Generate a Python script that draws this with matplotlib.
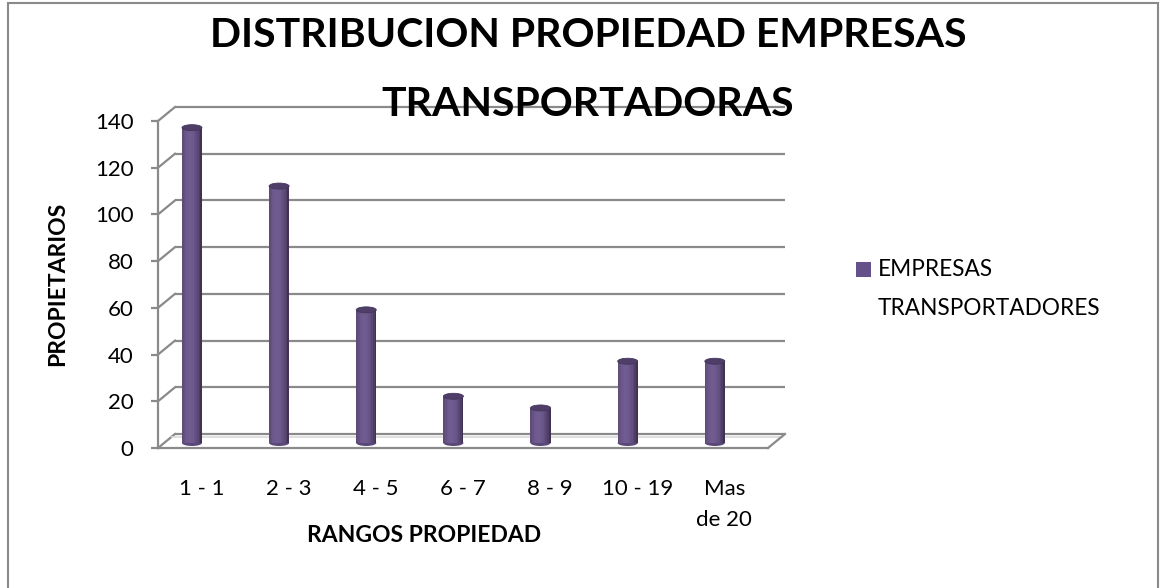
import matplotlib
matplotlib.use("Agg")
import matplotlib.pyplot as plt
import matplotlib.transforms as mtransforms
from matplotlib.patches import Ellipse, Rectangle
import numpy as np

categories = ["1 - 1", "2 - 3", "4 - 5", "6 - 7", "8 - 9", "10 - 19", "Mas\nde 20"]
values = [135, 110, 57, 20, 15, 35, 35]
series_name = "EMPRESAS\nTRANSPORTADORES"
yticks = [0, 20, 40, 60, 80, 100, 120, 140]
title = "DISTRIBUCION PROPIEDAD EMPRESAS\nTRANSPORTADORAS"
xlabel = "RANGOS PROPIEDAD"
ylabel = "PROPIETARIOS"

FONT = "Lato"
FS = 16
W, H, DPI = 1160, 588, 100
fig = plt.figure(figsize=(W / DPI, H / DPI), dpi=DPI)
fig.patch.set_facecolor("white")

def px(x, y):
    return x / W, 1 - y / H

# front axis frame: x 158..768, y 448 (0) .. 121 (140)
ax = fig.add_axes([158 / W, (H - 448) / H, 610 / W, 327 / H])
ax.set_xlim(-0.5, len(categories) - 0.5)
ax.set_ylim(0, 140)
ax.patch.set_alpha(0)
for s in ["top", "right", "bottom"]:
    ax.spines[s].set_visible(False)
grid_c = "#8a8a8a"
ax.spines["left"].set_color(grid_c)
ax.spines["left"].set_linewidth(1.6)

ax.set_yticks(yticks)
ax.set_yticklabels([str(t) for t in yticks], fontsize=FS, family=FONT)
ax.tick_params(axis="y", length=5, width=1.6, color=grid_c, pad=12.5)
x = np.arange(len(categories))
ax.set_xticks(x)
ax.set_xticklabels(categories, fontsize=FS, family=FONT, linespacing=1.72)
ax.tick_params(axis="x", length=0, pad=22)

# 3D depth offsets
dx, dy = 17 / DPI, 14 / DPI
back = ax.transData + mtransforms.ScaledTranslation(dx, dy, fig.dpi_scale_trans)
xmin, xmax = ax.get_xlim()

# back wall gridlines
for t in yticks:
    ax.plot([xmin, xmax], [t, t], color=grid_c, lw=1.6, transform=back,
            clip_on=False, zorder=1, solid_capstyle="butt")
    # left wall diagonals
    p0 = ax.transData.transform((xmin, t))
    p1 = back.transform((xmin, t))
    ax.plot([p0[0], p1[0]], [p0[1], p1[1]], color=grid_c, lw=1.6,
            transform=None, clip_on=False, zorder=1)

# floor
inner = ax.transData + mtransforms.ScaledTranslation(dx * 0.85, 11 / DPI, fig.dpi_scale_trans)
ax.plot([xmin, xmax], [0, 0], color="#d9d9d9", lw=1.2, transform=inner, clip_on=False, zorder=1)
ax.plot([xmin, xmax], [0, 0], color=grid_c, lw=1.6, clip_on=False, zorder=2)
p0 = ax.transData.transform((xmax, 0))
p1 = back.transform((xmax, 0))
ax.plot([p0[0], p1[0]], [p0[1], p1[1]], color=grid_c, lw=1.6,
        transform=None, clip_on=False, zorder=2)

# cylinders
bar_tr = ax.transData + mtransforms.ScaledTranslation(-9.6 / DPI, 5 / DPI, fig.dpi_scale_trans)
bw = 20 / 87.14
nstrip = 12
edges = np.linspace(-bw / 2, bw / 2, nstrip + 1)
centers = (edges[:-1] + edges[1:]) / 2
dark = np.array([0.29, 0.23, 0.38])
light = np.array([0.44, 0.36, 0.57])
ell_h = 6 / (327 / 140)
for i, v in enumerate(values):
    ax.add_patch(Ellipse((x[i], 0), bw, ell_h, transform=bar_tr, facecolor="#5a4878",
                         edgecolor="none", zorder=3, clip_on=False))
    for c in centers:
        r = abs(c + bw * 0.1) / (bw / 2)
        col = light * (1 - r ** 2) + dark * r ** 2
        ax.bar(x[i] + c, v, width=bw / nstrip + 0.002, color=col, transform=bar_tr,
               zorder=4, clip_on=False, linewidth=0)
    ax.add_patch(Ellipse((x[i], v), bw, ell_h, transform=bar_tr, facecolor="#4e3e68",
                         edgecolor="#45375c", lw=0.6, zorder=5, clip_on=False))

# axis titles
ax.set_ylabel(ylabel, fontsize=16.5, family=FONT, fontweight="bold", va="center")
ax.yaxis.set_label_coords((58 - 158) / 610, (448 - 284) / 327)
ax.set_xlabel(xlabel, fontsize=16.5, family=FONT, fontweight="bold", va="center")
ax.xaxis.set_label_coords((424 - 158) / 610, (448 - 536) / 327)

# title
tx, ty = px(588, 70)
fig.text(tx, ty, title, ha="center", va="center", fontsize=29.5, family=FONT,
         fontweight="bold", linespacing=2.04)

# legend (marker + wrapped label)
fig.patches.append(Rectangle(px(856, 277), 15 / W, 15 / H, transform=fig.transFigure,
                             facecolor="#66528a", edgecolor="none"))
lx, ly = px(878, 315)
fig.text(lx, ly, series_name, ha="left", va="baseline", fontsize=16.3, family=FONT,
         linespacing=2.08)

# outer frame
fig.patches.append(Rectangle(px(7.5, 590), (1158 - 7.5) / W, (590 - 3.5) / H,
                             transform=fig.transFigure, fill=False,
                             edgecolor="#8a8a8a", lw=1.5))

fig.savefig("out.png", dpi=DPI)
